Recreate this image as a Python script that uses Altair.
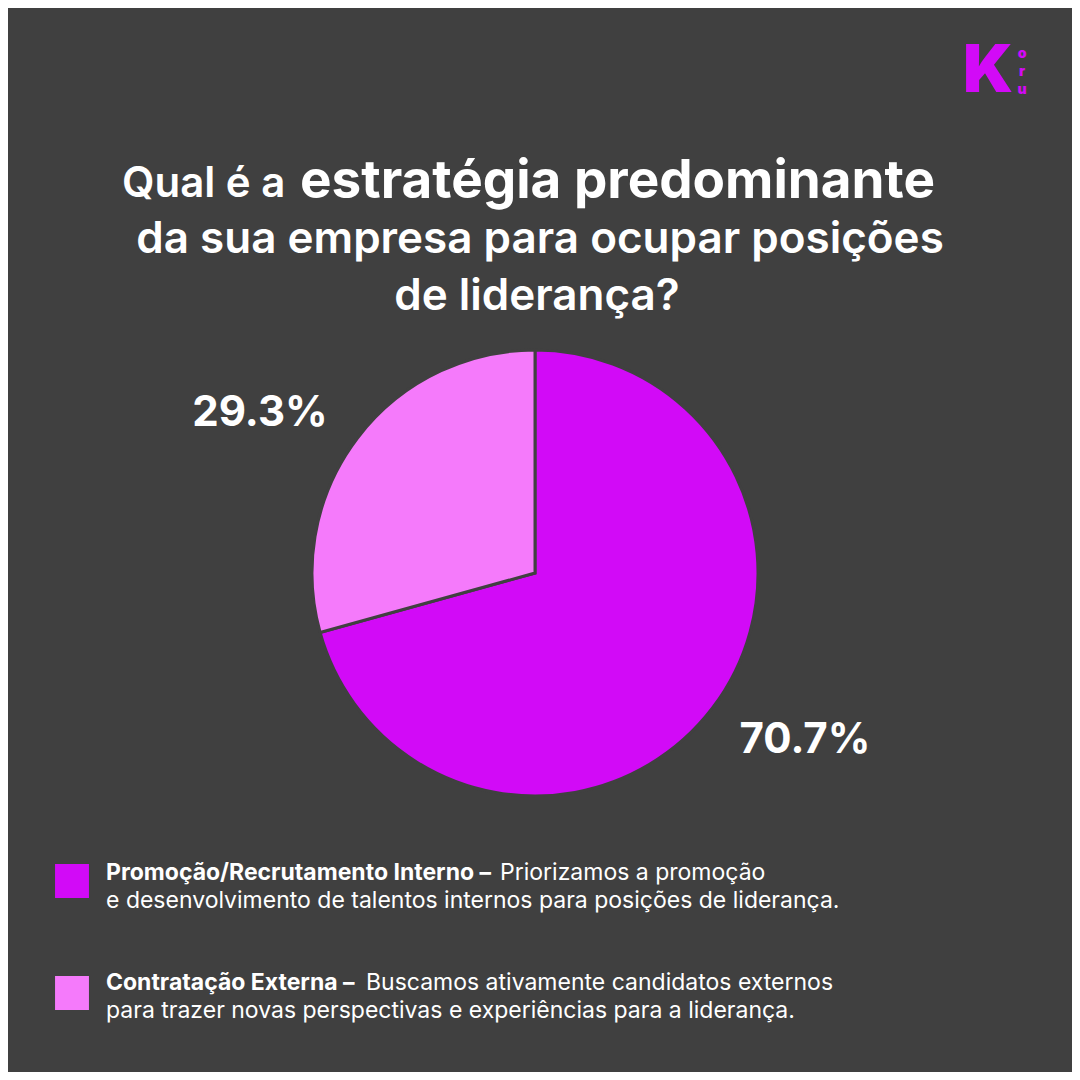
import altair as alt
import pandas as pd

categories = ['Promoção/Recrutamento Interno', 'Contratação Externa']
shares = [70.7, 29.3]
colors = ['#D20AF7', '#F57AFB']
labels = ['70.7%', '29.3%']

bg = '#404040'
font = 'Inter'
W = H = 1064

pie_df = pd.DataFrame({'cat': categories, 'share': shares, 'order': [0, 1]})
one = pd.DataFrame({'a': [0]})

pie = alt.Chart(pie_df).mark_arc(
    outerRadius=223, stroke=bg, strokeWidth=3
).encode(
    theta=alt.Theta('share:Q', stack=True),
    order='order:Q',
    color=alt.Color('cat:N', scale=alt.Scale(domain=categories, range=colors), legend=None),
    x=alt.value(527), y=alt.value(565),
)


def txt(s, x, y, size, weight='normal', align='left', color='white'):
    return alt.Chart(one).mark_text(
        text=s, font=font, fontSize=size, fontWeight=weight, align=align,
        baseline='middle', color=color
    ).encode(x=alt.value(x), y=alt.value(y))


def square(i, y):
    d = pd.DataFrame({'cat': [categories[i]]})
    return alt.Chart(d).mark_square(size=1150, opacity=1, color=colors[i]).encode(
        x=alt.value(64), y=alt.value(y))


layers = [
    pie,
    txt('Qual é a', 114, 176, 42, 600),
    txt('estratégia predominante', 292, 174, 53, 'bold'),
    txt('da sua empresa para ocupar posições', 532, 232, 44, 600, 'center'),
    txt('de liderança?', 529, 289, 44, 600, 'center'),
    txt(labels[1], 252, 405, 42, 'bold', 'center'),
    txt(labels[0], 797, 732, 42, 'bold', 'center'),
    # logo
    txt('K', 980, 64, 66, 900, 'center', '#D20AF7'),
    txt('o', 1014, 46, 14, 900, 'center', '#D20AF7'),
    txt('r', 1014, 64, 14, 900, 'center', '#D20AF7'),
    txt('u', 1014, 82, 14, 900, 'center', '#D20AF7'),
    square(0, 873),
    square(1, 985),
    txt('Promoção/Recrutamento Interno –', 98, 865, 23, 'bold'),
    txt('Priorizamos a promoção', 492, 865, 23),
    txt('e desenvolvimento de talentos internos para posições de liderança.', 98, 893, 23),
    txt('Contratação Externa –', 98, 975, 23, 'bold'),
    txt('Buscamos ativamente candidatos externos', 358, 975, 23),
    txt('para trazer novas perspectivas e experiências para a liderança.', 98, 1003, 23),
]

chart = alt.layer(*layers).properties(
    width=W, height=H, background=bg, padding=0,
    autosize=alt.AutoSizeParams(type='none')
).configure_view(strokeWidth=0)

chart.save("out.html", embed_options={"renderer": "svg", "actions": False})
